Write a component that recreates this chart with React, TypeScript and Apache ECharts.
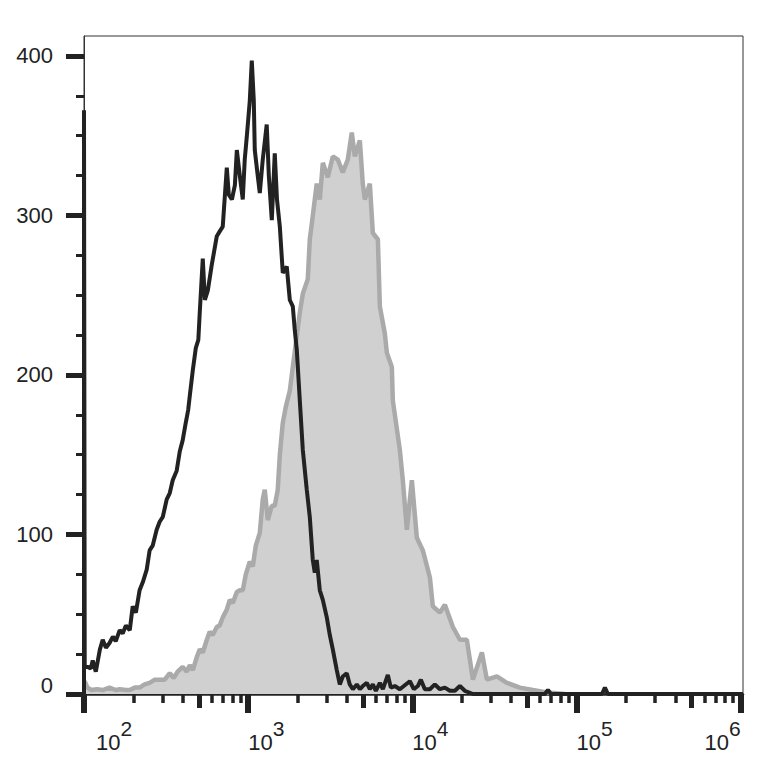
import React, { useEffect, useRef } from "react";
import * as echarts from "echarts";

const X_MIN = 100;
const X_MAX = 1033000;
const Y_MAX = 412.5;

const decadeTicks = [100, 1000, 10000, 100000, 1000000];
const decadeExponents = ["2", "3", "4", "5", "6"];
const halfDecadeTicks = [500, 5000, 50000, 500000];
const minorTicks = [
  200, 300, 400, 600, 700, 800, 900,
  2000, 3000, 4000, 6000, 7000, 8000, 9000,
  20000, 30000, 40000, 60000, 70000, 80000, 90000,
  200000, 300000, 400000, 600000, 700000, 800000, 900000,
];
const yMajorTicks = [0, 100, 200, 300, 400];
const yMinorTicks = [25, 50, 75, 125, 150, 175, 225, 250, 275, 325, 350, 375];

// Unstained / control histogram (black outline)
const controlIntensity = [
  100, 100, 101, 105, 110, 113, 118, 125, 130, 136, 143, 150, 156, 165, 172, 180, 190, 198, 207, 218,
  228, 241, 251, 262, 277, 289, 302, 319, 333, 347, 367, 383, 399, 415, 431, 441, 460, 480, 497, 507,
  529, 545, 568, 600, 644, 671, 700, 741, 762, 796, 830, 853, 889, 927, 953, 980, 1023, 1052, 1082, 1097,
  1143, 1177, 1227, 1297, 1336, 1393, 1452, 1498, 1559, 1625, 1718, 1793, 1870, 1923, 1977, 2063, 2152,
  2275, 2373, 2475, 2545, 2617, 2731, 2849, 3012, 3142, 3277, 3465, 3614, 3770, 3986, 4157, 4341, 4590,
  4789, 4990, 5281, 5508, 5746, 5994, 6339, 6612, 7091, 7396, 7824, 8392, 8877, 9660, 10210, 10800,
  11270, 11910, 12790, 13710, 14720, 15780, 16930, 18160, 19480, 20890, 23380, 64150, 66990, 69830,
  142900, 148900, 155400, 1033000,
];
const controlCount = [
  0, 366, 17, 17, 16, 21, 14, 28, 34, 29, 32, 36, 33, 40, 38, 43, 40, 55, 51, 65,
  70, 78, 90, 93, 103, 108, 111, 122, 126, 134, 140, 152, 159, 169, 178, 187, 203, 217, 222, 239,
  273, 247, 253, 269, 287, 290, 293, 330, 313, 310, 319, 341, 325, 310, 335, 349, 372, 397, 372, 341,
  325, 314, 335, 357, 325, 297, 339, 310, 293, 264, 268, 247, 243, 228, 216, 184, 153,
  128, 111, 84, 76, 84, 65, 59, 48, 37, 28, 15, 6, 11, 13, 6, 3, 6,
  3, 5, 7, 3, 6, 2, 7, 3, 12, 4, 5, 3, 5, 8, 3, 5,
  9, 3, 3, 6, 3, 4, 2, 2, 5, 2, 0, 0, 2.5, 0,
  0, 4, 0, 0,
];

// Stained histogram (grey filled)
const stainedIntensity = [
  100, 102, 105, 111, 120, 130, 143, 156, 165, 180, 190, 204, 218, 234, 251, 270, 289, 310, 333, 352,
  372, 399, 423, 441, 460, 486, 507, 529, 560, 583, 608, 644, 671, 700, 741, 773, 806, 853, 889, 927,
  967, 1023, 1067, 1113, 1177, 1227, 1262, 1317, 1393, 1452, 1514, 1559, 1625, 1695, 1793, 1870, 2063,
  2152, 2307, 2373, 2442, 2617, 2731, 2849, 3055, 3277, 3516, 3770, 4045, 4277, 4462, 4789, 4990, 5136,
  5508, 5746, 6166, 6339, 6798, 6993, 7499, 7605, 8392, 8750, 9259, 9932, 10650, 11590, 12790, 13330,
  14720, 15780, 17660, 19480, 21480, 23380, 26520, 28450, 32730, 37670, 45190, 54230, 66030, 76000, 84920,
];
const stainedCount = [
  8, 7, 4, 2.5, 3, 2.5, 4, 2.5, 3, 2.5, 2.5, 4, 4, 6, 7, 9, 9, 9, 13, 10,
  14, 17, 14, 18, 15, 23, 28, 26, 34, 39, 37, 42, 43, 48, 53, 59, 57, 64, 65, 65,
  75, 83, 80, 93, 101, 122, 128, 109, 118, 118, 128, 150, 170, 180, 190, 205, 239,
  251, 260, 285, 295, 320, 310, 333, 324, 337, 335, 327, 335, 352, 337, 347, 320, 310,
  320, 289, 285, 243, 226, 214, 205, 184, 153, 134, 103, 134, 98, 90, 73, 55,
  51, 56, 42, 34, 34, 9, 26, 9, 11, 7, 4, 2.5, 1, 0.5, 0,
];

const FONT = "'Liberation Sans', Arial, sans-serif";
const INK = "#222";

export default function App() {
  const ref = useRef<HTMLDivElement>(null);

  useEffect(() => {
    if (!ref.current) return;
    const chart = echarts.init(ref.current, undefined, { renderer: "svg" });

    const hiddenLogAxis = (ticks: number[], len: number, w: number) => ({
      type: "log",
      logBase: 10,
      min: X_MIN,
      max: X_MAX,
      position: "bottom",
      gridIndex: 0,
      axisLine: { show: false },
      axisLabel: { show: false },
      splitLine: { show: false },
      minorTick: { show: false },
      axisTick: {
        show: true,
        customValues: ticks,
        length: len,
        lineStyle: { color: INK, width: w },
      },
    });

    chart.setOption({
      animation: false,
      backgroundColor: "#ffffff",
      grid: {
        left: 84,
        top: 36,
        right: 36,
        bottom: 86,
        show: true,
        borderColor: "#333",
        borderWidth: 1,
        backgroundColor: "transparent",
        containLabel: false,
        outerBoundsMode: "none",
      },
      xAxis: [
        {
          type: "log",
          logBase: 10,
          min: X_MIN,
          max: X_MAX,
          position: "bottom",
          axisLine: { show: true, lineStyle: { color: INK, width: 2.5 } },
          splitLine: { show: false },
          minorTick: { show: false },
          axisTick: {
            show: true,
            customValues: decadeTicks,
            length: 19,
            lineStyle: { color: INK, width: 6 },
          },
          axisLabel: {
            show: true,
            customValues: decadeTicks,
            margin: 24,
            align: "left",
            alignMinLabel: "left",
            alignMaxLabel: "right",
            hideOverlap: false,
            formatter: (v: number) => {
              const i = decadeTicks.indexOf(Math.round(v));
              const exp = i >= 0 ? decadeExponents[i] : String(Math.round(Math.log10(v)));
              return i === 0 ? `{b0|10}{s|${exp}}` : `{b|10}{s|${exp}}`;
            },
            rich: {
              b: { fontSize: 22, fontFamily: FONT, color: INK, verticalAlign: "bottom" },
              b0: { fontSize: 22, fontFamily: FONT, color: INK, verticalAlign: "bottom", padding: [0, 0, 0, 12] },
              s: { fontSize: 21, fontFamily: FONT, color: INK, verticalAlign: "bottom", padding: [0, 0, 14, 0] },
            },
          },
        },
        hiddenLogAxis(halfDecadeTicks, 14, 5),
        hiddenLogAxis(minorTicks, 9, 3.5),
      ],
      yAxis: [
        {
          type: "value",
          min: 0,
          max: Y_MAX,
          position: "left",
          axisLine: { show: true, lineStyle: { color: "#333", width: 1 } },
          splitLine: { show: false },
          axisTick: {
            show: true,
            customValues: yMajorTicks,
            length: 18,
            lineStyle: { color: INK, width: 5 },
          },
          axisLabel: {
            show: true,
            customValues: yMajorTicks,
            margin: 31,
            formatter: (v: number) => (v === 0 ? `{z|0}` : `{n|${v}}`),
            rich: {
              n: { fontSize: 22, fontFamily: FONT, color: INK },
              z: { fontSize: 22, fontFamily: FONT, color: INK, padding: [0, 0, 18, 0] },
            },
          },
        },
        {
          type: "value",
          min: 0,
          max: Y_MAX,
          position: "left",
          axisLine: { show: false },
          splitLine: { show: false },
          axisLabel: { show: false },
          axisTick: {
            show: true,
            customValues: yMinorTicks,
            length: 8,
            lineStyle: { color: INK, width: 3 },
          },
        },
      ],
      series: [
        {
          type: "line",
          name: "stained",
          xAxisIndex: 0,
          yAxisIndex: 0,
          data: stainedIntensity.map((x, i) => [x, stainedCount[i]]),
          symbol: "none",
          lineStyle: { color: "#aaaaaa", width: 4.5 },
          areaStyle: { color: "#d0d0d0", opacity: 1 },
          z: 2,
        },
        {
          type: "line",
          name: "control",
          xAxisIndex: 0,
          yAxisIndex: 0,
          clip: false,
          data: controlIntensity.map((x, i) => [x, controlCount[i]]),
          symbol: "none",
          lineStyle: { color: INK, width: 4 },
          z: 3,
        },
      ],
    });

    return () => chart.dispose();
  }, []);

  return (
    <div
      ref={ref}
      style={{ position: "absolute", left: 0, top: 0, width: 779, height: 780, background: "#fff" }}
    />
  );
}
